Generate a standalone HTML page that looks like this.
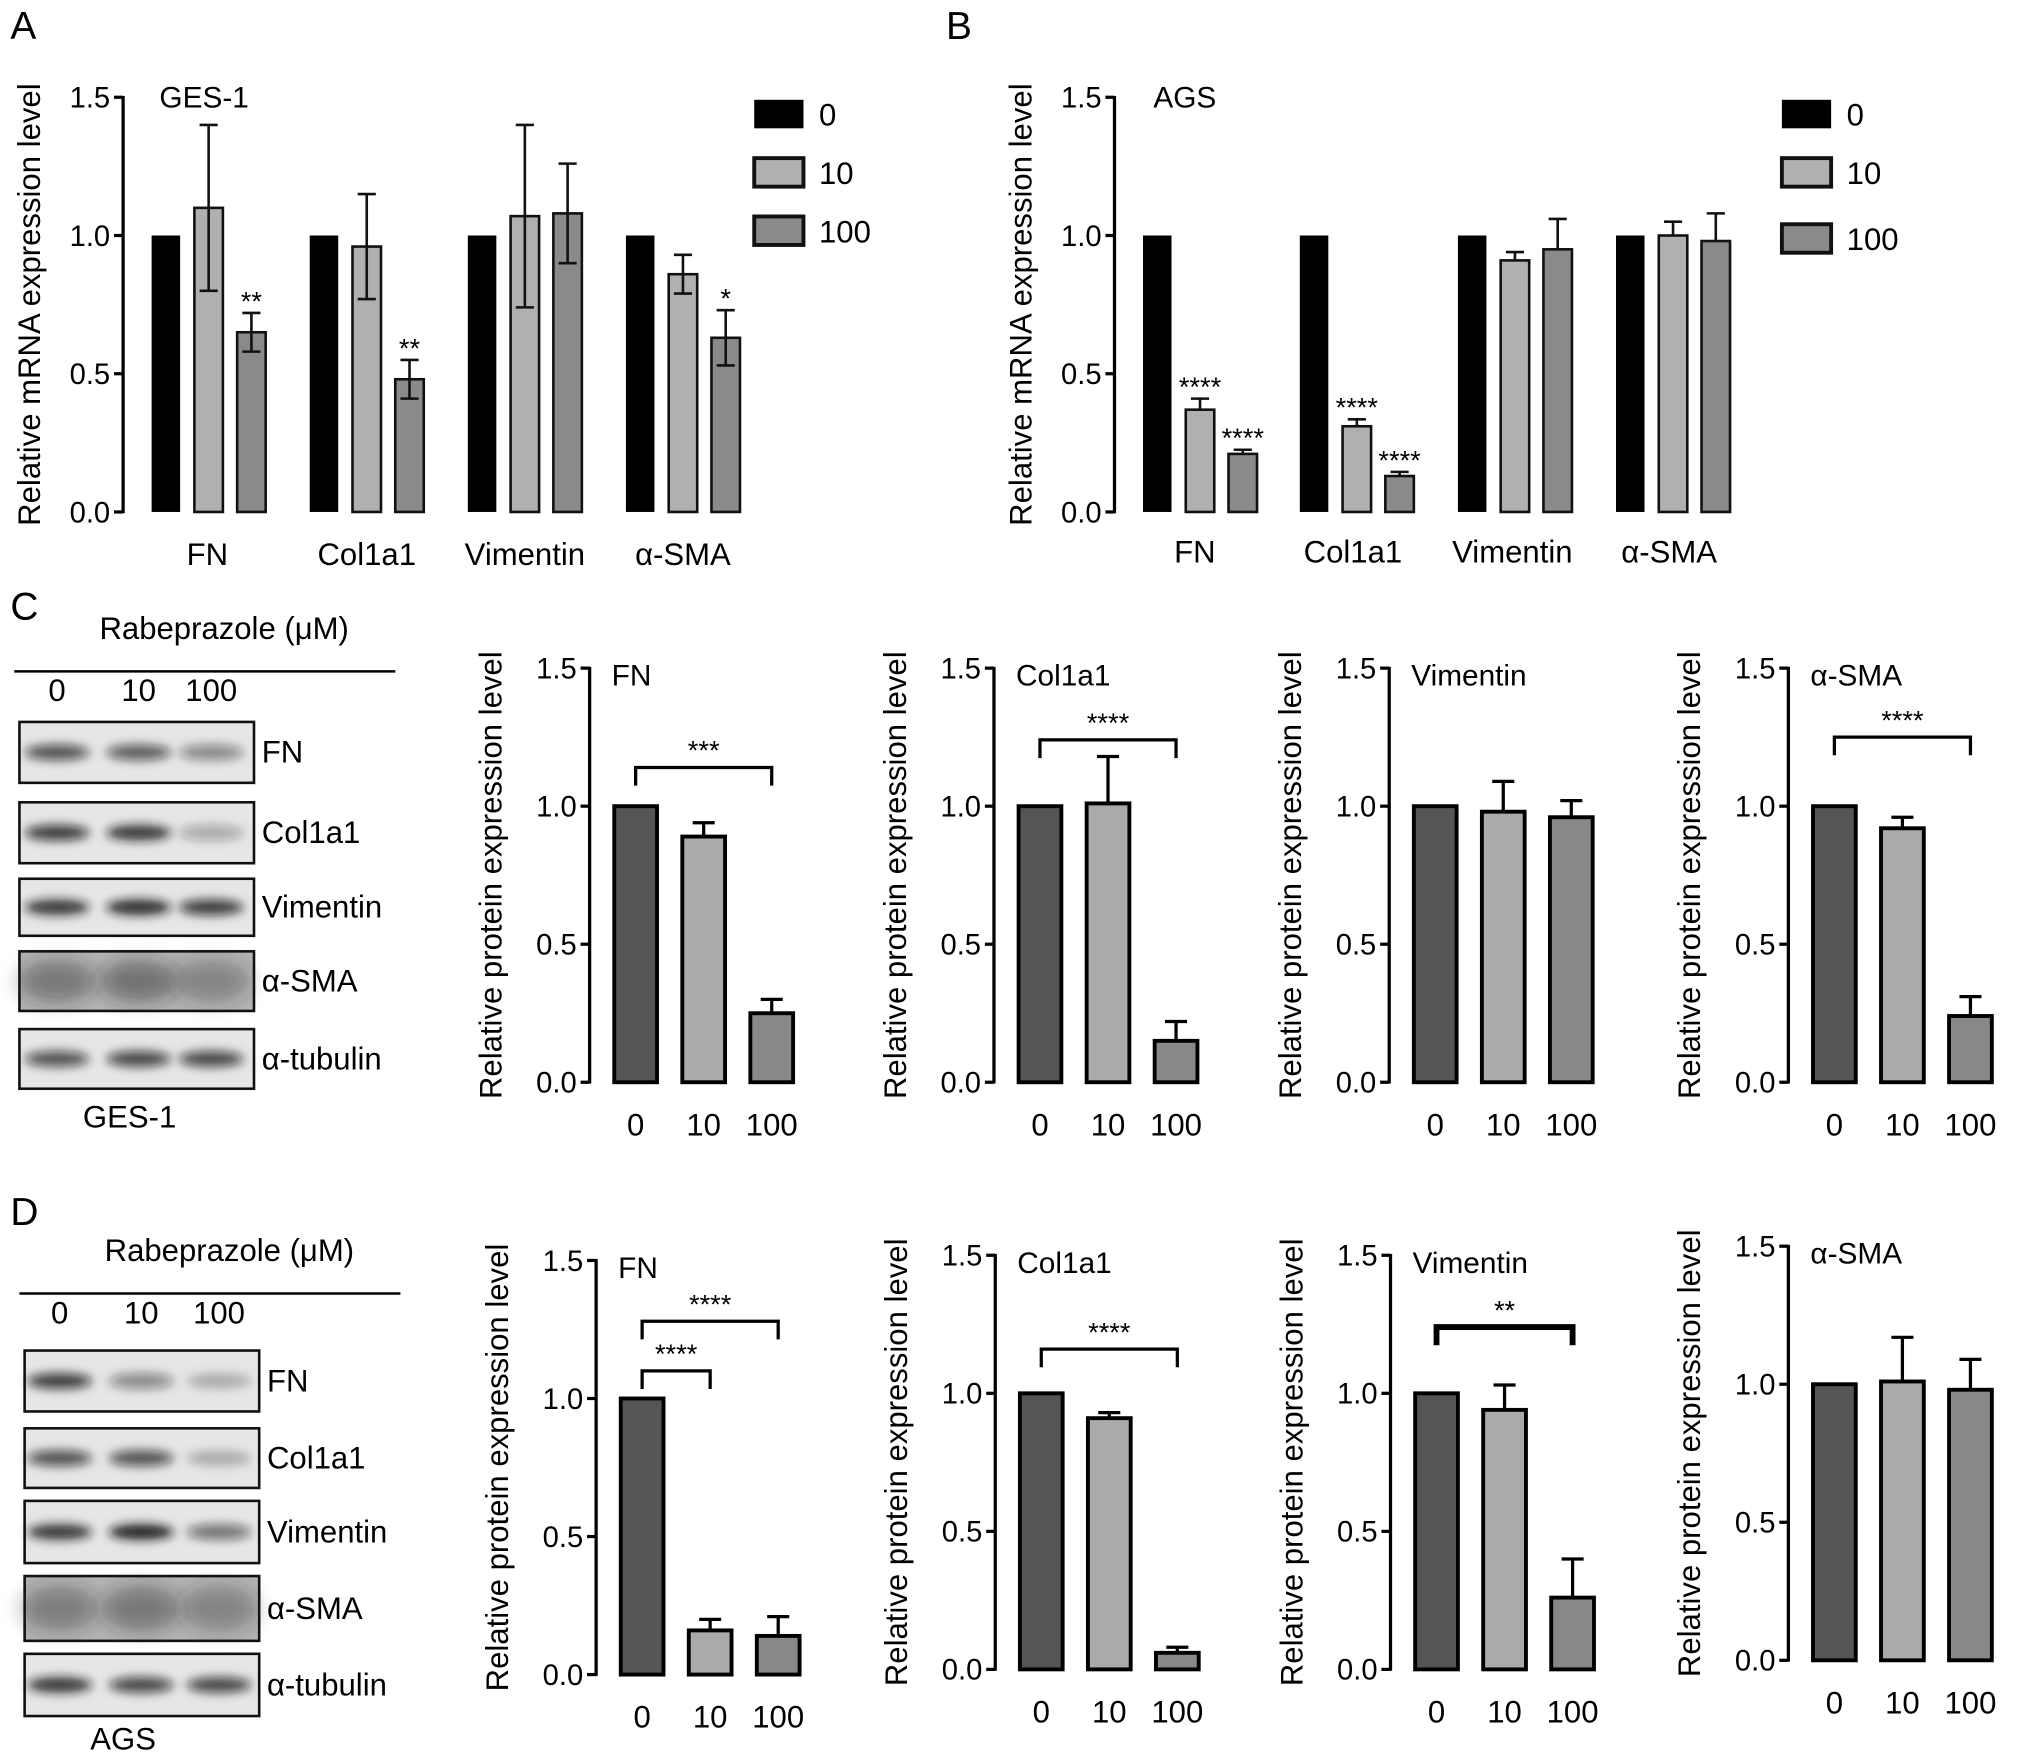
<!DOCTYPE html>
<html><head><meta charset="utf-8">
<style>
html,body{margin:0;padding:0;background:#fff;}
svg{display:block;font-family:"Liberation Sans",Arial,sans-serif;}
</style></head>
<body>
<svg id="fig" width="2032" height="1764" viewBox="0 0 1568 1361" preserveAspectRatio="none" xmlns="http://www.w3.org/2000/svg">
<defs>
<filter id="blur" x="-50%" y="-100%" width="200%" height="300%"><feGaussianBlur stdDeviation="4"/></filter>
<filter id="blur2" x="-50%" y="-100%" width="200%" height="300%"><feGaussianBlur stdDeviation="7"/></filter>
</defs>
<g id="root"></g>
</svg>
<script>
// ---------- Panel A data ----------
const catsA = ["FN","Col1a1","Vimentin","α-SMA"];
const seriesNames = ["0","10","100"];
const aVals0 = [1,1,1,1];
const aVals10 = [1.10,0.96,1.07,0.86];
const aVals100 = [0.65,0.48,1.08,0.63];
const aErr10 = [0.30,0.19,0.33,0.07];
const aErr100 = [0.07,0.07,0.18,0.10];
const aStars100 = ["**","**","","*"];
// ---------- Panel B data ----------
const bVals0 = [1,1,1,1];
const bVals10 = [0.37,0.31,0.91,1.00];
const bVals100 = [0.21,0.13,0.95,0.98];
const bErr10 = [0.04,0.025,0.03,0.05];
const bErr100 = [0.015,0.015,0.11,0.10];
const bStars10 = ["****","****","",""];
const bStars100 = ["****","****","",""];
const yTicks = [0,0.5,1.0,1.5];
const yTickLabels = ["0.0","0.5","1.0","1.5"];
// ---------- Panel C data ----------
const doses = ["0","10","100"];
const cTitles = ["FN","Col1a1","Vimentin","α-SMA"];
const cFN = [1,0.89,0.25], cFNErr = [0,0.05,0.05];
const cCol = [1,1.01,0.15], cColErr = [0,0.17,0.07];
const cVim = [1,0.98,0.96], cVimErr = [0,0.11,0.06];
const cSMA = [1,0.92,0.24], cSMAErr = [0,0.04,0.07];
// ---------- Panel D data ----------
const dFN = [1,0.16,0.14], dFNErr = [0,0.04,0.07];
const dCol = [1,0.91,0.06], dColErr = [0,0.02,0.02];
const dVim = [1,0.94,0.26], dVimErr = [0,0.09,0.14];
const dSMA = [1,1.01,0.98], dSMAErr = [0,0.16,0.11];
// blot band intensities (0..1) per lane
const blotRows = ["FN","Col1a1","Vimentin","α-SMA","α-tubulin"];
const cBands = [[0.7,0.65,0.45],[0.8,0.85,0.3],[0.85,0.9,0.8],[0.6,0.65,0.5],[0.7,0.75,0.75]];
const dBands = [[0.8,0.45,0.25],[0.7,0.7,0.25],[0.85,0.95,0.55],[0.55,0.6,0.5],[0.85,0.75,0.75]];

const NS="http://www.w3.org/2000/svg";
const root=document.getElementById('root');
function el(tag,attrs,parent,text){const e=document.createElementNS(NS,tag);for(const k in attrs)e.setAttribute(k,attrs[k]);if(text!==undefined)e.textContent=text;(parent||root).appendChild(e);return e;}

function yAxis(g,ax,y0,unit,label,labelX){
  el('line',{x1:ax,y1:y0+1,x2:ax,y2:y0-1.5*unit-1,stroke:'#000','stroke-width':2.5},g);
  yTicks.forEach((t,i)=>{
    const y=y0-t*unit;
    el('line',{x1:ax-7,y1:y,x2:ax,y2:y,stroke:'#000','stroke-width':2.5},g);
    const tx=el('text',{x:ax-10,y:y+8,'text-anchor':'end','font-size':22.5},g,yTickLabels[i]);
    
    
  });
  const cy=y0-0.75*unit;
  const yl=el('text',{x:labelX,y:cy,'text-anchor':'middle','font-size':24,transform:`rotate(-90 ${labelX} ${cy})`},g,label);
  
  
}

// ---------- Panel A / B grouped ----------
function grouped(prefix,ax,y0,groupStart,v0,v10,v100,e10,e100,s10,s100,title,titleX,legX,legYs,catXs,catY,bothErr){
  const g=el('g',{});
  
  
  const unit=213.3;
  yAxis(g,ax,y0,unit,'Relative mRNA expression level',ax-64);
  const fills=['#000','#b0b0b0','#8a8a8a'];
  const vals=[v0,v10,v100], errs=[null,e10,e100], stars=[null,s10,s100];
  catsA.forEach((c,ci)=>{
    for(let s=0;s<3;s++){
      const x=groupStart[ci]+s*33, v=vals[s][ci], y=y0-v*unit;
      const r=el('rect',{x:x,y:y,width:22,height:v*unit,fill:fills[s],stroke:'#111','stroke-width':s?2:0},g);
      
      
      if(errs[s]){
        const e=errs[s][ci], cx=x+11;
        const lo=bothErr? y+e*unit : y;
        el('line',{x1:cx,y1:y-e*unit,x2:cx,y2:lo,stroke:'#111','stroke-width':2},g);
        el('line',{x1:cx-7,y1:y-e*unit,x2:cx+7,y2:y-e*unit,stroke:'#111','stroke-width':2},g);
        if(bothErr) el('line',{x1:cx-7,y1:lo,x2:cx+7,y2:lo,stroke:'#111','stroke-width':2},g);
        const st=stars[s][ci];
        if(st){const t=el('text',{x:cx,y:y-e*unit-2,'text-anchor':'middle','font-size':21},g,st);
          }
      }
    }
    const t=el('text',{x:catXs[ci],y:catY,'text-anchor':'middle','font-size':24},g,c);
    
    
  });
  const tt=el('text',{x:titleX,y:y0-312,'font-size':23},g,title);
  
  seriesNames.forEach((n,i)=>{
    const r=el('rect',{x:legX,y:legYs[i],width:38,height:22,fill:fills[i],stroke:'#111','stroke-width':i?3:0},g);
    
    const t=el('text',{x:legX+50,y:legYs[i]+20,'font-size':24},g,n);
    
  });
}
grouped('panel-a',95,395,[117,239,361,483],aVals0,aVals10,aVals100,aErr10,aErr100,["","","",""],aStars100,'GES-1',123,582,[77,122,167],[160,283,405,527],436,true);
grouped('panel-b',860,395,[882,1003,1125,1247],bVals0,bVals10,bVals100,bErr10,bErr100,bStars10,bStars100,'AGS',890,1375,[77,122,173],[922,1044,1167,1288],434,false);

// ---------- small protein charts ----------
function small(name,ax,y0,vals,errs,title,brackets){
  const g=el('g',{});
  
  
  const unit=213;
  yAxis(g,ax,y0,unit,'Relative protein expression level',ax-68);
  const fills=['#555','#aaa','#888'];
  const cx=[];
  vals.forEach((v,i)=>{
    const x=ax+19+i*52.5, y=y0-v*unit;
    cx.push(x+16.5);
    const r=el('rect',{x:x,y:y,width:33,height:v*unit,fill:fills[i],stroke:'#000','stroke-width':3},g);
    
    
    if(errs[i]>0){
      const ey=y-errs[i]*unit;
      el('line',{x1:x+16.5,y1:y,x2:x+16.5,y2:ey,stroke:'#000','stroke-width':2.5},g);
      el('line',{x1:x+8,y1:ey,x2:x+25,y2:ey,stroke:'#000','stroke-width':2.5},g);
    }
    const t=el('text',{x:x+16.5,y:y0+41,'text-anchor':'middle','font-size':24},g,doses[i]);
    
  });
  const tt=el('text',{x:ax+17,y:y0-306,'font-size':23},g,title);
  
  brackets.forEach(b=>{
    const by=y0-b[2]*unit, x1=cx[b[0]], x2=cx[b[1]];
    const w=b[4]||2.5;
    el('path',{d:`M${x1} ${by+14}V${by}H${x2}V${by+14}`,fill:'none',stroke:'#000','stroke-width':w},g);
    const t=el('text',{x:(x1+x2)/2,y:by-6,'text-anchor':'middle','font-size':21},g,b[3]);
    
  });
}
small('panel-c-fn',455,835,cFN,cFNErr,cTitles[0],[[0,2,1.14,'***']]);
small('panel-c-col1a1',767,835,cCol,cColErr,cTitles[1],[[0,2,1.24,'****']]);
small('panel-c-vimentin',1072,835,cVim,cVimErr,cTitles[2],[]);
small('panel-c-asma',1380,835,cSMA,cSMAErr,cTitles[3],[[0,2,1.25,'****']]);
small('panel-d-fn',460,1292,dFN,dFNErr,cTitles[0],[[0,1,1.10,'****'],[0,2,1.28,'****']]);
small('panel-d-col1a1',768,1288,dCol,dColErr,cTitles[1],[[0,2,1.16,'****']]);
small('panel-d-vimentin',1073,1288,dVim,dVimErr,cTitles[2],[[0,2,1.24,'**',4.5]]);
small('panel-d-asma',1380,1281,dSMA,dSMAErr,cTitles[3],[]);

// ---------- western blots ----------
function blot(name,x0,boxYs,boxH,lanes,bands,headerY,lineY,laneY,cell,cellY){
  const g=el('g',{});
  
  
  const h=el('text',{x:x0+158,y:headerY,'text-anchor':'middle','font-size':24},g,'Rabeprazole (μM)');
  
  el('line',{x1:x0-4,y1:lineY,x2:x0+290,y2:lineY,stroke:'#000','stroke-width':2},g);
  doses.forEach((d,i)=>{const t=el('text',{x:lanes[i],y:laneY,'text-anchor':'middle','font-size':24},g,d);
    });
  blotRows.forEach((r,ri)=>{
    const y=boxYs[ri], h=boxH[ri];
    const bg = ri===3 ? '#b5b5b5' : '#e6e6e6';
    const b=el('rect',{x:x0,y:y,width:181,height:h,fill:bg,stroke:'#111','stroke-width':2},g);
    
    lanes.forEach((lx,li)=>{
      const a=bands[ri][li];
      if(ri===3){
        el('ellipse',{cx:lx,cy:y+h/2,rx:30,ry:h*0.35,fill:`rgba(40,40,40,${a*0.7})`,filter:'url(#blur2)'},g);
      } else {
        el('ellipse',{cx:lx,cy:y+h/2,rx:25,ry:6,fill:`rgba(20,20,20,${a})`,filter:'url(#blur)'},g);
      }
    });
    const t=el('text',{x:x0+187,y:y+h/2+8,'font-size':24},g,r);
    
  });
  const c=el('text',{x:cell[0],y:cellY,'text-anchor':'middle','font-size':24},g,cell[1]);
  
}
blot('panel-c-blot',15,[557,619,678,734,794],[47,47,44,46,46],[44,107,163],cBands,493,518,541,[100,'GES-1'],870);
blot('panel-d-blot',19,[1042,1102,1158,1216,1276],[47,46,48,50,48],[46,109,169],dBands,973,998,1021,[95,'AGS'],1350);

// panel letters
[['A',8,30],['B',730,30],['C',8,478],['D',8,945]].forEach(p=>{
  const t=el('text',{x:p[1],y:p[2],'font-size':30},root,p[0]);
  
  
});
</script>
</body></html>
